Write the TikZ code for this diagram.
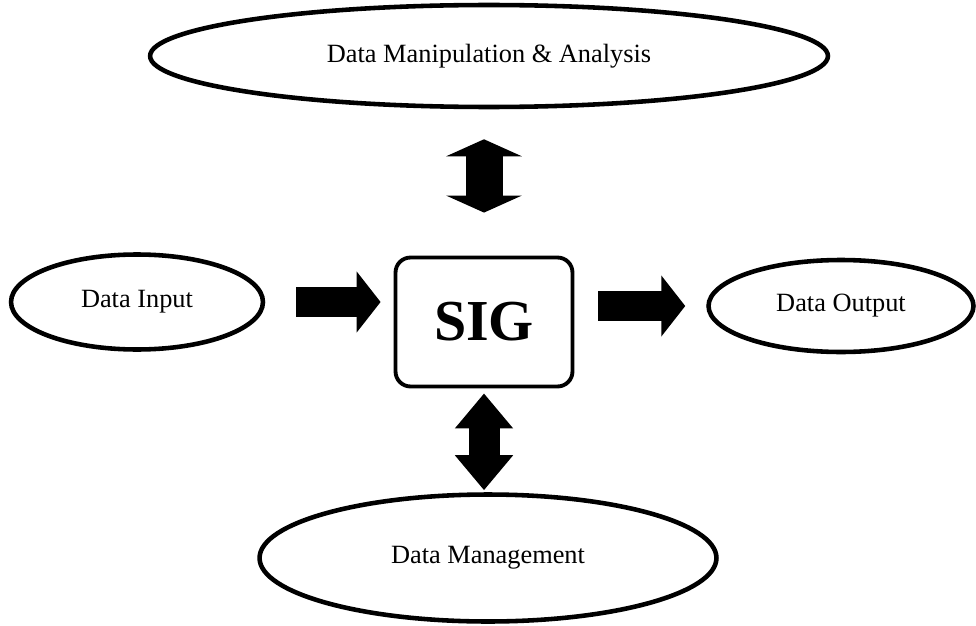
\documentclass[tikz,border=0pt]{standalone}
\usepackage{fontspec}
\setmainfont{Liberation Serif}
\usetikzlibrary{arrows.meta}
\usetikzlibrary{shapes.geometric}
\tikzset{
  blob/.style={draw, ellipse, line width=2.6pt, inner sep=0pt, font=\fontsize{15}{18}\selectfont},
  sigbox/.style={draw, rounded corners=0.3cm, line width=2.2pt, minimum width=3.54cm, minimum height=2.58cm, font=\fontsize{33}{40}\selectfont\bfseries},
  fatarrow/.style={line width=0.6cm, -{Triangle[length=0.48cm, width=1.2cm]}},
  updown/.style={line width=#1, {Triangle[length=0.34cm, width=1.5cm]}-{Triangle[length=0.34cm, width=1.5cm]}},
  downup/.style={line width=#1, {Triangle[length=0.7cm, width=1.12cm]}-{Triangle[length=0.7cm, width=1.12cm]}},
}

\begin{document}
\begin{tikzpicture}[x=0.02cm, y=-0.02cm]
\useasboundingbox (0,0) rectangle (976,625);
\node[blob, minimum width=13.56cm, minimum height=2.04cm] (analysis) at (489,56) {Data Manipulation \& Analysis};
\node[sigbox] (sig) at (484,322) {SIG};
\node[blob, minimum width=5.04cm, minimum height=1.9cm] (input) at (137,302) {Data Input};
\node[blob, minimum width=5.3cm, minimum height=1.84cm] (output) at (841,306) {Data Output};
\node[blob, minimum width=9.14cm, minimum height=2.54cm] (manage) at (488,558) {Data Management};
\draw[updown=0.74cm, shorten <=0.6cm, shorten >=0.86cm] (sig.north |- analysis.south) -- (sig.north);
\draw[downup=0.62cm, shorten <=0.1cm, shorten >=0.04cm] (sig.south) -- (sig.south |- manage.north);
\draw[fatarrow, shorten <=0.62cm, shorten >=0.26cm] (input.east) -- (input.east -| sig.west);
\draw[fatarrow, shorten <=0.48cm, shorten >=0.42cm] (sig.east |- output.west) -- (output.west);
\end{tikzpicture}
\end{document}
